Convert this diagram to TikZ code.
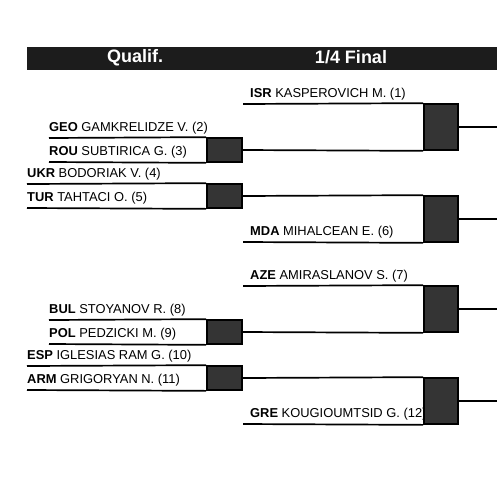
\documentclass[tikz,border=0pt]{standalone}
\usepackage{fontspec}
\setmainfont{Liberation Sans}
\usepackage{tikz}
\usetikzlibrary{positioning}
\definecolor{headerdark}{RGB}{28,28,28}
\definecolor{scoregray}{RGB}{52,52,52}
\tikzset{
  header/.style={
    rectangle, fill=headerdark, inner sep=0pt,
    minimum width=470pt, minimum height=23pt
  },
  headertext/.style={
    inner sep=0pt, text=white, font=\fontsize{18}{20}\selectfont\bfseries
  },
  player/.style={
    anchor=base west, inner sep=0pt, font=\fontsize{12.9}{15}\selectfont
  },
  qscore/.style={
    rectangle, draw=black, fill=scoregray, line width=1.7pt, inner sep=0pt,
    minimum width=35pt, minimum height=24pt
  },
  fscore/.style={
    rectangle, draw=black, fill=scoregray, line width=1.7pt, inner sep=0pt,
    minimum width=34pt, minimum height=46pt
  },
  slot/.style={line width=1.7pt, color=black}
}

\begin{document}
\begin{tikzpicture}[x=1pt, y=-1pt]
  \useasboundingbox (0,0) rectangle (497,485);

  \node[header] (hdr) at (262,58.5) {};
  \node[headertext] (hqual) at (135,57.5) {Qualif.};
  \node[headertext] (hquart) at (351,57.5) {1/4 Final};

  \coordinate (l1) at (243,104);
  \coordinate (l2) at (49,138);
  \coordinate (l3) at (49,162);
  \coordinate (l4) at (27,184);
  \coordinate (l5) at (27,208);
  \coordinate (l6) at (243,242);
  \coordinate (l7) at (243,286);
  \coordinate (l8) at (49,320);
  \coordinate (l9) at (49,344);
  \coordinate (l10) at (27,366);
  \coordinate (l11) at (27,390);
  \coordinate (l12) at (243,424);

  \node[player] (isr) at ([shift={(7pt,7pt)}]l1) {\textbf{ISR} KASPEROVICH M. (1)};
  \node[player] (geo) at ([yshift=7pt]l2) {\textbf{GEO} GAMKRELIDZE V. (2)};
  \node[player] (rou) at ([yshift=7pt]l3) {\textbf{ROU} SUBTIRICA G. (3)};
  \node[player] (ukr) at ([yshift=7pt]l4) {\textbf{UKR} BODORIAK V. (4)};
  \node[player] (tur) at ([yshift=7pt]l5) {\textbf{TUR} TAHTACI O. (5)};
  \node[player] (mda) at ([shift={(7pt,7pt)}]l6) {\textbf{MDA} MIHALCEAN E. (6)};
  \node[player] (aze) at ([shift={(7pt,7pt)}]l7) {\textbf{AZE} AMIRASLANOV S. (7)};
  \node[player] (bul) at ([yshift=7pt]l8) {\textbf{BUL} STOYANOV R. (8)};
  \node[player] (pol) at ([yshift=7pt]l9) {\textbf{POL} PEDZICKI M. (9)};
  \node[player] (esp) at ([yshift=7pt]l10) {\textbf{ESP} IGLESIAS RAM G. (10)};
  \node[player] (arm) at ([yshift=7pt]l11) {\textbf{ARM} GRIGORYAN N. (11)};
  \node[player] (gre) at ([shift={(7pt,7pt)}]l12) {\textbf{GRE} KOUGIOUMTSID G. (12)};

  \node[qscore] (q1) at (224.5,150) {};
  \node[qscore] (q2) at (224.5,196) {};
  \node[qscore] (q3) at (224.5,332) {};
  \node[qscore] (q4) at (224.5,378) {};
  \node[fscore] (f1) at (441,127) {};
  \node[fscore] (f2) at (441,219) {};
  \node[fscore] (f3) at (441,309) {};
  \node[fscore] (f4) at (441,401) {};

  \coordinate (e1) at (497,127);
  \coordinate (e2) at (497,219);
  \coordinate (e3) at (497,309);
  \coordinate (e4) at (497,401);

  \draw[slot] (l2) -- (q1.north west);
  \draw[slot] (l3) -- (q1.south west);
  \draw[slot] (l4) -- (q2.north west);
  \draw[slot] (l5) -- (q2.south west);
  \draw[slot] (l8) -- (q3.north west);
  \draw[slot] (l9) -- (q3.south west);
  \draw[slot] (l10) -- (q4.north west);
  \draw[slot] (l11) -- (q4.south west);

  \draw[slot] (l1) -- (f1.north west);
  \draw[slot] (q1.east) -- (f1.south west);
  \draw[slot] (q2.east) -- (f2.north west);
  \draw[slot] (l6) -- (f2.south west);
  \draw[slot] (l7) -- (f3.north west);
  \draw[slot] (q3.east) -- (f3.south west);
  \draw[slot] (q4.east) -- (f4.north west);
  \draw[slot] (l12) -- (f4.south west);

  \draw[slot] (f1.east) -- (e1);
  \draw[slot] (f2.east) -- (e2);
  \draw[slot] (f3.east) -- (e3);
  \draw[slot] (f4.east) -- (e4);
\end{tikzpicture}
\end{document}
